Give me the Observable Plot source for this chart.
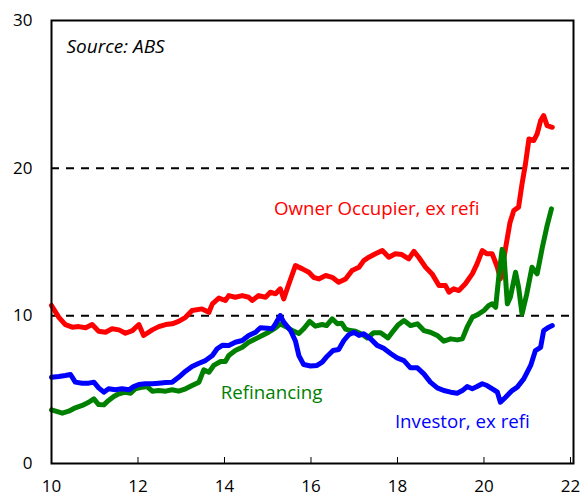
<!DOCTYPE html>
<html>
<head>
<meta charset="utf-8">
<script src="https://cdn.jsdelivr.net/npm/d3@7"></script>
<script src="https://cdn.jsdelivr.net/npm/@observablehq/plot@0.6"></script>
<style>
  html, body { margin: 0; padding: 0; background: #fff; }
</style>
</head>
<body>
<div id="chart"></div>
<script>
const xTicks = [10, 12, 14, 16, 18, 20, 22];
const yTicks = [0, 10, 20, 30];
const refLines = [10, 20];

const ownerYears = [10.00,10.17,10.32,10.48,10.63,10.79,10.94,11.09,11.25,11.40,11.56,11.71,11.87,12.02,12.13,12.33,12.48,12.64,12.79,12.94,13.10,13.25,13.48,13.64,13.72,13.87,14.02,14.10,14.25,14.41,14.56,14.64,14.79,14.95,15.06,15.18,15.29,15.37,15.49,15.64,15.80,15.95,16.06,16.18,16.34,16.49,16.64,16.80,16.95,17.11,17.22,17.34,17.49,17.65,17.80,17.95,18.10,18.26,18.38,18.49,18.65,18.80,18.96,19.11,19.19,19.30,19.42,19.57,19.73,19.84,19.96,20.07,20.19,20.31,20.38,20.50,20.60,20.69,20.80,20.88,20.96,21.04,21.15,21.23,21.31,21.38,21.46,21.58];
const ownerValues = [10.7,9.9,9.4,9.23,9.27,9.19,9.41,8.96,8.89,9.12,9.05,8.82,9.0,9.41,8.67,9.05,9.27,9.41,9.46,9.63,9.9,10.36,10.47,10.24,10.81,11.2,11.04,11.37,11.26,11.37,11.26,11.04,11.37,11.26,11.6,11.49,11.83,11.15,12.17,13.4,13.18,12.95,12.61,12.5,12.73,12.61,12.27,12.5,13.07,13.29,13.74,13.97,14.2,14.42,13.97,14.2,14.15,13.86,14.37,13.97,13.29,12.84,12.05,12.05,11.6,11.83,11.71,12.17,12.84,13.52,14.42,14.2,14.2,13.29,12.5,14.6,16.3,17.13,17.36,18.94,20.3,21.98,21.87,22.32,23.22,23.56,22.88,22.77];

const investorYears = [10.00,10.17,10.32,10.44,10.55,10.71,10.86,10.98,11.09,11.21,11.32,11.48,11.63,11.79,11.90,12.02,12.17,12.33,12.48,12.64,12.79,12.94,13.10,13.25,13.41,13.56,13.72,13.83,13.95,14.10,14.25,14.41,14.56,14.72,14.83,14.99,15.10,15.18,15.29,15.37,15.53,15.64,15.72,15.83,15.99,16.14,16.26,16.37,16.51,16.64,16.76,16.87,16.99,17.11,17.22,17.38,17.53,17.68,17.84,17.99,18.15,18.30,18.46,18.61,18.76,18.92,19.07,19.23,19.38,19.50,19.61,19.73,19.84,19.96,20.07,20.23,20.31,20.38,20.50,20.65,20.77,20.92,21.08,21.19,21.31,21.38,21.50,21.58];
const investorValues = [5.84,5.89,5.96,6.03,5.51,5.44,5.44,5.51,5.12,4.83,5.06,4.99,5.06,4.99,5.21,5.35,5.4,5.4,5.44,5.48,5.51,5.84,6.25,6.57,6.79,6.97,7.31,7.77,8.0,7.99,8.21,8.33,8.67,8.89,9.19,9.16,9.12,9.46,10.02,9.57,9.0,8.3,7.31,6.7,6.6,6.64,6.86,7.25,7.65,7.72,8.33,8.71,8.89,8.67,8.78,8.44,8.0,7.8,7.45,7.15,6.97,6.48,6.48,6.07,5.51,5.12,4.94,4.83,4.76,4.94,5.21,5.06,5.21,5.4,5.28,4.99,4.83,4.15,4.49,4.94,5.17,5.73,6.64,7.65,7.87,9.0,9.23,9.34];

const refiYears = [10.00,10.25,10.40,10.55,10.71,10.86,10.98,11.09,11.21,11.32,11.44,11.56,11.71,11.83,11.94,12.10,12.21,12.33,12.48,12.64,12.79,12.94,13.10,13.25,13.41,13.52,13.64,13.75,13.91,14.02,14.10,14.25,14.41,14.56,14.72,14.87,15.02,15.18,15.29,15.41,15.57,15.72,15.83,15.97,16.10,16.26,16.36,16.49,16.61,16.71,16.80,16.91,17.03,17.18,17.30,17.45,17.61,17.78,17.91,18.02,18.15,18.30,18.46,18.61,18.76,18.92,19.07,19.23,19.38,19.50,19.61,19.73,19.88,20.00,20.11,20.19,20.27,20.34,20.42,20.46,20.54,20.61,20.73,20.80,20.88,20.99,21.11,21.23,21.35,21.46,21.56];
const refiValues = [3.63,3.41,3.54,3.77,3.93,4.15,4.38,3.99,3.97,4.27,4.54,4.72,4.83,4.76,5.06,5.17,5.21,4.9,4.94,4.9,4.99,4.9,5.06,5.28,5.51,6.34,6.18,6.64,6.91,6.9,7.31,7.65,7.87,8.21,8.44,8.67,8.89,9.19,9.46,9.28,9.0,8.8,9.12,9.62,9.3,9.41,9.34,9.8,9.46,9.5,9.1,9.0,8.95,8.75,8.5,8.85,8.85,8.5,9.0,9.4,9.68,9.34,9.46,9.0,8.89,8.67,8.28,8.44,8.37,8.44,9.23,9.9,10.13,10.36,10.7,10.81,10.58,12.6,14.5,14.2,10.81,11.26,12.95,11.94,10.13,11.49,13.29,12.84,14.65,16.11,17.24];

const toRows = (xs, vs) => xs.map((x, i) => ({x, y: vs[i]}));
const owner = toRows(ownerYears, ownerValues);
const investor = toRows(investorYears, investorValues);
const refi = toRows(refiYears, refiValues);

const FONT = "'Open Sans', Lato, sans-serif";

const chart = Plot.plot({
  width: 583,
  height: 500,
  marginLeft: 51,
  marginRight: 10,
  marginTop: 20,
  marginBottom: 37,
  style: {fontFamily: FONT, fontSize: "17px", color: "#000", background: "#fff", overflow: "visible"},
  x: {domain: [10, 22.07], label: null},
  y: {domain: [0, 30], label: null},
  marks: [
    Plot.ruleY(refLines, {stroke: "#000", strokeWidth: 2, strokeDasharray: "8,7"}),
    Plot.line(owner, {x: "x", y: "y", stroke: "#ff0000", strokeWidth: 5, strokeLinejoin: "round", strokeLinecap: "round"}),
    Plot.line(refi, {x: "x", y: "y", stroke: "#008000", strokeWidth: 5, strokeLinejoin: "round", strokeLinecap: "round"}),
    Plot.line(investor, {x: "x", y: "y", stroke: "#0000ff", strokeWidth: 5, strokeLinejoin: "round", strokeLinecap: "round"}),
    Plot.frame({stroke: "#000", strokeWidth: 2}),
    Plot.axisX({ticks: xTicks, tickSize: 6, dy: -6, tickPadding: 16, tickFormat: d => d, label: null, fontSize: 17}),
    Plot.axisY({ticks: yTicks, tickSize: 0, tickPadding: 19, tickFormat: d => d, label: null, fontSize: 17}),
    Plot.text(["Source: ABS"], {frameAnchor: "top-left", dx: 15, dy: 26, textAnchor: "start", lineAnchor: "middle", fontStyle: "italic", fontSize: 19, fill: "#000"}),
    Plot.text(["Owner Occupier, ex refi"], {x: 17.52, y: 17.26, textAnchor: "middle", lineAnchor: "middle", fontSize: 18.7, fill: "#ff0000"}),
    Plot.text(["Refinancing"], {x: 15.09, y: 4.74, textAnchor: "middle", lineAnchor: "middle", fontSize: 18.7, fill: "#008000"}),
    Plot.text(["Investor, ex refi"], {x: 19.5, y: 2.78, textAnchor: "middle", lineAnchor: "middle", fontSize: 18.7, fill: "#0000ff"})
  ]
});
document.getElementById("chart").appendChild(chart);
</script>
</body>
</html>
